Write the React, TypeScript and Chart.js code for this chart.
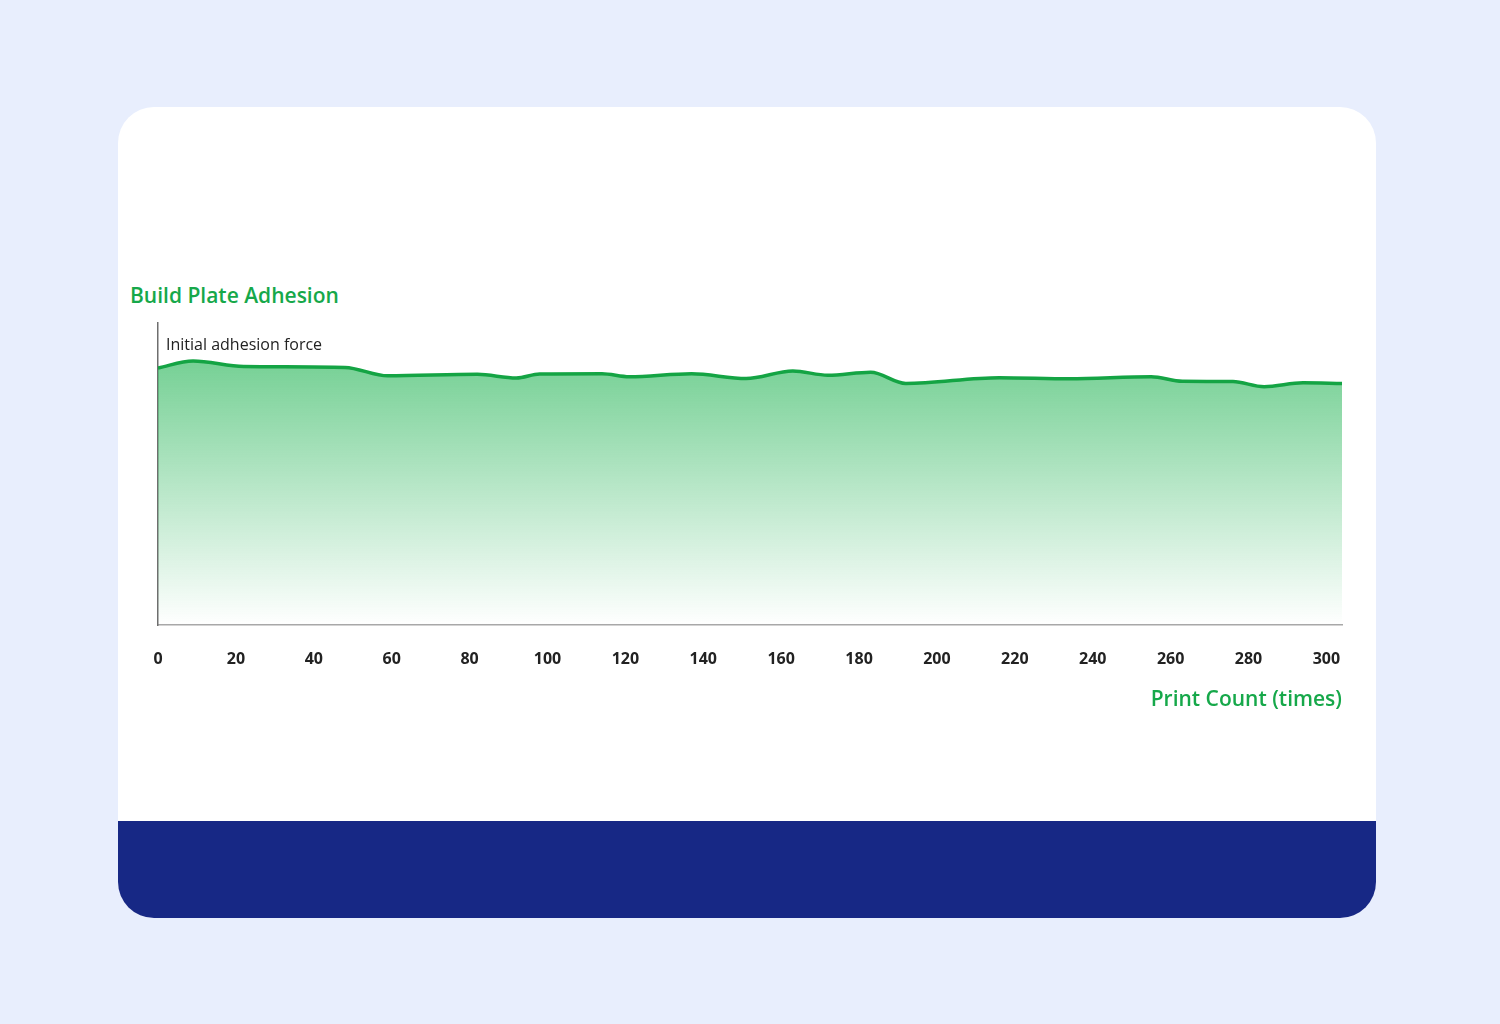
import { useEffect, useRef } from 'react';
import { Chart, registerables, Plugin } from 'chart.js';

Chart.register(...registerables);

// print count (x) and relative adhesion (y, 0-100)
const printCounts = [0, 9, 22, 48, 59, 82, 92, 98, 114, 121, 137, 151, 163, 172, 183, 192, 216, 234, 255, 263, 276, 284, 294, 304];
const adhesion = [85.1, 87.4, 85.6, 85.3, 82.5, 83.0, 81.8, 83.1, 83.2, 82.2, 83.2, 81.6, 84.1, 82.7, 83.7, 80.0, 81.9, 81.5, 82.2, 80.7, 80.6, 78.9, 80.2, 80.0];
const xTicks = [0, 20, 40, 60, 80, 100, 120, 140, 160, 180, 200, 220, 240, 260, 280, 300];

const chartTitle = 'Build Plate Adhesion';
const xTitle = 'Print Count (times)';
const noteLabel = 'Initial adhesion force';

const GREEN = '#16a84a';
const LINE = '#14a444';
const FONT = "'Open Sans', 'Noto Sans', sans-serif";

const notePlugin: Plugin<'line'> = {
  id: 'initialNote',
  afterDraw(chart) {
    const { ctx, chartArea } = chart;
    ctx.save();
    ctx.font = `400 16px ${FONT}`;
    ctx.fillStyle = '#222222';
    ctx.textBaseline = 'alphabetic';
    ctx.fillText(noteLabel, chartArea.left + 8, chartArea.top + 27);
    ctx.restore();
  },
};

function AdhesionChart() {
  const canvasRef = useRef<HTMLCanvasElement>(null);
  const chartRef = useRef<Chart | null>(null);

  useEffect(() => {
    if (!canvasRef.current) return;
    if (chartRef.current) chartRef.current.destroy();

    chartRef.current = new Chart(canvasRef.current, {
      type: 'line',
      data: {
        datasets: [
          {
            label: 'Adhesion',
            data: printCounts.map((x, i) => ({ x, y: adhesion[i] })),
            borderColor: LINE,
            borderWidth: 3.5,
            pointRadius: 0,
            cubicInterpolationMode: 'monotone',
            fill: 'origin',
            backgroundColor: (context) => {
              const { ctx, chartArea } = context.chart;
              if (!chartArea) return 'rgba(24,176,76,0.4)';
              const g = ctx.createLinearGradient(0, chartArea.top, 0, chartArea.bottom);
              g.addColorStop(0, 'rgba(24,176,76,0.68)');
              g.addColorStop(1, 'rgba(24,176,76,0.0)');
              return g;
            },
          },
        ],
      },
      options: {
        responsive: true,
        maintainAspectRatio: false,
        animation: false,
        layout: { padding: { left: 40, right: 34, top: 10, bottom: 12.6 } },
        plugins: {
          legend: { display: false },
          tooltip: { enabled: false },
        },
        scales: {
          x: {
            type: 'linear',
            min: 0,
            max: 304,
            afterBuildTicks: (scale) => {
              scale.ticks = xTicks.map((value) => ({ value }));
            },
            grid: { display: false, drawTicks: false },
            border: { display: true, color: '#a8a8a8', width: 1.5 },
            ticks: {
              padding: 28,
              maxRotation: 0,
              autoSkip: false,
              color: '#222222',
              font: { family: FONT, size: 16, weight: 'bold', lineHeight: 0.8 },
            },
            title: {
              display: true,
              text: xTitle,
              align: 'end',
              color: GREEN,
              font: { family: FONT, size: 21, weight: 600, lineHeight: 0.6 },
              padding: { top: 0, bottom: 4 },
            },
          },
          y: {
            min: 0,
            max: 100,
            grid: { display: false, drawTicks: false },
            border: { display: true, color: '#6e6e6e', width: 1.5 },
            ticks: { display: false },
          },
        },
      },
      plugins: [notePlugin],
    });

    return () => {
      if (chartRef.current) {
        chartRef.current.destroy();
        chartRef.current = null;
      }
    };
  }, []);

  return <canvas ref={canvasRef}></canvas>;
}

export default function App() {
  return (
    <div style={{ position: 'fixed', inset: 0, background: '#e8eefd', fontFamily: FONT }}>
      <div
        style={{
          position: 'absolute',
          left: 118,
          top: 107,
          width: 1258,
          height: 811,
          background: '#ffffff',
          borderRadius: 36,
          overflow: 'hidden',
        }}
      >
        <div
          style={{
            position: 'absolute',
            left: 12,
            top: 178.4,
            fontSize: 21,
            lineHeight: '21px',
            fontWeight: 600,
            color: GREEN,
            whiteSpace: 'nowrap',
          }}
        >
          {chartTitle}
        </div>
        <div style={{ position: 'absolute', left: 0, top: 206, width: 1258, height: 410 }}>
          <AdhesionChart />
        </div>
        <div
          style={{
            position: 'absolute',
            left: 0,
            right: 0,
            bottom: 0,
            height: 97,
            background: '#172885',
          }}
        />
      </div>
    </div>
  );
}
